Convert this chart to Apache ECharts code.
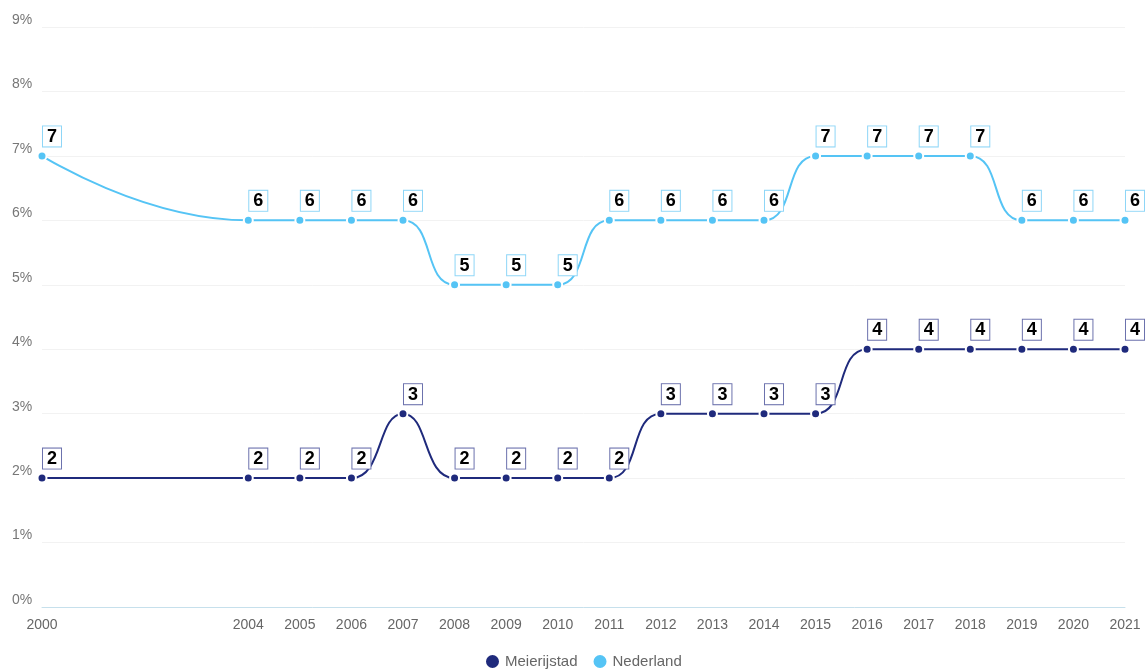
<!DOCTYPE html>
<html lang="nl">
<head>
    <meta charset="UTF-8">
    <title>Meierijstad vs Nederland</title>
    <script src="https://cdn.jsdelivr.net/npm/echarts@6/dist/echarts.min.js"></script>
    <style>
        html, body { margin: 0; padding: 0; background: #fff; }
    </style>
</head>
<body>
<div id="main" style="width: 1148px;height:671px;"></div>
<script type="text/javascript">
    // jaren en waarden (in %)
    let years = [2000, 2004, 2005, 2006, 2007, 2008, 2009, 2010, 2011, 2012, 2013, 2014, 2015, 2016, 2017, 2018, 2019, 2020, 2021];
    let meierijstad = [2, 2, 2, 2, 3, 2, 2, 2, 2, 3, 3, 3, 3, 4, 4, 4, 4, 4, 4];
    let nederland = [7, 6, 6, 6, 6, 5, 5, 5, 6, 6, 6, 6, 7, 7, 7, 7, 6, 6, 6];
    let seriesNames = ['Meierijstad', 'Nederland'];
    let colors = ['#1f2a7c', '#55c4f5'];
    let labelBorders = ['#6c72ad', '#8ed6f7'];

    function makeSeries(name, values, color, border) {
        return {
            name: name,
            type: 'line',
            smooth: true,
            symbol: 'circle',
            symbolSize: 9,
            data: years.map((y, i) => [y, values[i]]),
            lineStyle: { width: 2, color: color },
            itemStyle: { color: color, borderColor: '#fff', borderWidth: 2 },
            label: {
                show: true,
                position: 'top',
                distance: 4,
                offset: [10, 0],
                formatter: p => p.value[1],
                color: '#000',
                fontWeight: 'bold',
                fontSize: 18,
                fontFamily: 'Arial, Liberation Sans',
                lineHeight: 17,
                backgroundColor: '#fff',
                borderColor: border,
                borderWidth: 1,
                padding: [2, 4, 1, 4]
            }
        };
    }

    option = {
        backgroundColor: '#fff',
        color: colors,
        grid: {
            left: 42,
            right: 23,
            top: 27,
            bottom: 64
        },
        legend: {
            bottom: -4,
            left: 479,
            icon: 'circle',
            itemWidth: 15,
            itemHeight: 15,
            itemGap: 14,
            textStyle: { color: '#666', fontSize: 15, fontFamily: 'Liberation Sans' },
            data: seriesNames
        },
        xAxis: {
            type: 'value',
            min: 2000,
            max: 2021,
            interval: 1,
            splitLine: { show: false },
            axisTick: { show: false },
            axisLine: { lineStyle: { color: '#c6e0ec' } },
            axisLabel: {
                color: '#666',
                fontSize: 14,
                fontFamily: 'Liberation Sans',
                margin: 11,
                formatter: v => years.indexOf(v) >= 0 ? v : ''
            }
        },
        yAxis: {
            type: 'value',
            min: 0,
            max: 9,
            interval: 1,
            axisLine: { show: false },
            axisTick: { show: false },
            splitLine: { lineStyle: { color: '#f2f2f2' } },
            axisLabel: {
                color: '#777',
                fontSize: 14,
                fontFamily: 'Liberation Sans',
                align: 'left',
                verticalAlign: 'bottom',
                margin: 30,
                formatter: '{value}%'
            }
        },
        series: [
            makeSeries(seriesNames[0], meierijstad, colors[0], labelBorders[0]),
            makeSeries(seriesNames[1], nederland, colors[1], labelBorders[1])
        ]
    };

    let myChart = echarts.init(document.getElementById('main'));
    myChart.setOption(option);
</script>
</body>
</html>
